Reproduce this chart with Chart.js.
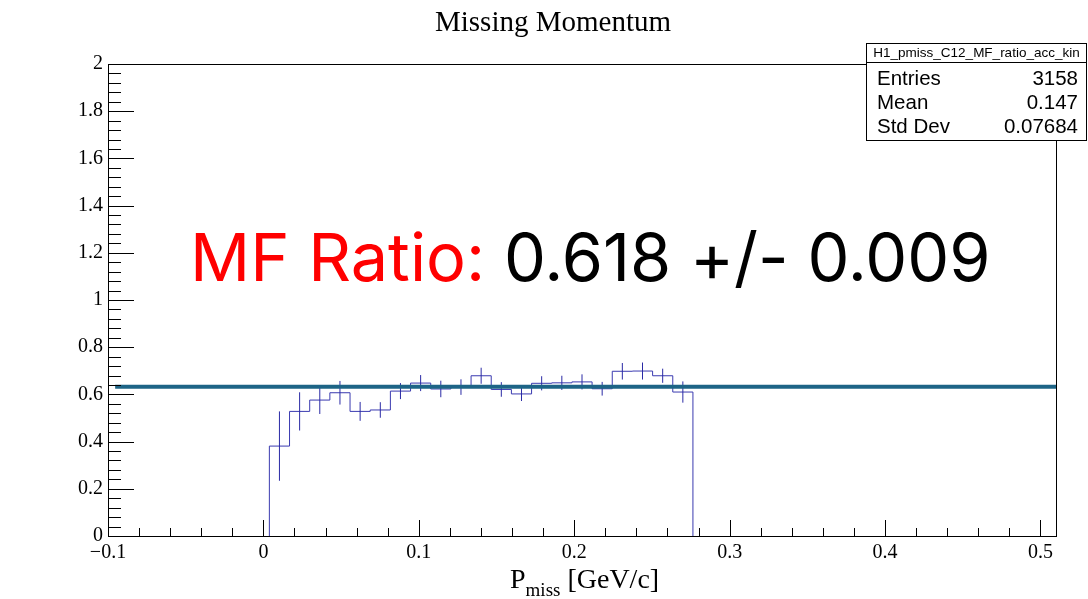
<!DOCTYPE html>
<html>
<head>
<meta charset="utf-8">
<title>Missing Momentum</title>
<script src="https://cdn.jsdelivr.net/npm/chart.js@4.4.0/dist/chart.umd.min.js"></script>
<style>
  html, body { margin: 0; padding: 0; background: #fff; }
</style>
</head>
<body>
<canvas id="chart" width="1088" height="599"></canvas>
<script>
// H1_pmiss_C12_MF_ratio_acc_kin : 47 bins over [-0.1, 0.51]
const histMin = -0.1;
const histMax = 0.51;
const histBins = 47;
const firstFilledBin = 8; // 0-based index of first non-empty bin

// bin contents / errors (bins 8..28)
const binValues = [0.381, 0.528, 0.576, 0.607, 0.528, 0.534, 0.614, 0.648, 0.623, 0.631, 0.679,
                   0.621, 0.602, 0.647, 0.649, 0.653, 0.624, 0.698, 0.699, 0.679, 0.610];
const binErrors = [0.147, 0.081, 0.059, 0.050, 0.040, 0.033, 0.034, 0.034, 0.035, 0.033, 0.034,
                   0.031, 0.030, 0.030, 0.030, 0.032, 0.029, 0.035, 0.036, 0.030, 0.045];

// pol0 fit
const fitValue = 0.632;
const fitRange = [-0.0954, 0.51];

const xTicks = [-0.1, 0, 0.1, 0.2, 0.3, 0.4, 0.5];
const xTickLabels = ['\u22120.1', '0', '0.1', '0.2', '0.3', '0.4', '0.5'];
const yTicks = [0, 0.2, 0.4, 0.6, 0.8, 1, 1.2, 1.4, 1.6, 1.8, 2];
const yTickLabels = ['0', '0.2', '0.4', '0.6', '0.8', '1', '1.2', '1.4', '1.6', '1.8', '2'];

const plotTitle = 'Missing Momentum';
const statsTitle = 'H1_pmiss_C12_MF_ratio_acc_kin';
const statsLabels = ['Entries', 'Mean', 'Std Dev'];
const statsValues = ['3158', '0.147', '0.07684'];
const ratioLabel = 'MF Ratio:';
const ratioValue = '0.618 +/- 0.009';

const binWidth = (histMax - histMin) / histBins;
const edge = i => histMin + i * binWidth;

// step outline
const histPoints = [{ x: edge(firstFilledBin), y: 0 }];
binValues.forEach((v, k) => histPoints.push({ x: edge(firstFilledBin + k), y: v }));
histPoints.push({ x: edge(firstFilledBin + binValues.length), y: 0 });

// vertical error bars, separated by gaps
const errPoints = [];
binValues.forEach((v, k) => {
  const c = edge(firstFilledBin + k) + binWidth / 2;
  errPoints.push({ x: c, y: v - binErrors[k] }, { x: c, y: v + binErrors[k] }, { x: c, y: null });
});

const rootLook = {
  id: 'rootLook',
  afterDatasetsDraw(chart) {
    const ctx = chart.ctx;
    const { left, right, top, bottom } = chart.chartArea;
    const xs = chart.scales.x, ys = chart.scales.y;
    ctx.save();
    ctx.strokeStyle = '#000';
    ctx.lineWidth = 1;
    ctx.strokeRect(left + 0.5, top + 0.5, right - left, bottom - top);

    // inward ticks, 4 minor per major
    ctx.beginPath();
    const xStep = (xTicks[1] - xTicks[0]) / 5;
    for (let k = 0; ; k++) {
      const v = xTicks[0] + k * xStep;
      if (v > histMax + 1e-9) break;
      const px = Math.round(xs.getPixelForValue(v)) + 0.5;
      const len = k % 5 === 0 ? 16 : 8;
      ctx.moveTo(px, bottom);
      ctx.lineTo(px, bottom - len);
    }
    const yStep = (yTicks[1] - yTicks[0]) / 5;
    for (let k = 0; ; k++) {
      const v = yTicks[0] + k * yStep;
      if (v > yTicks[yTicks.length - 1] + 1e-9) break;
      const py = Math.round(ys.getPixelForValue(v)) + 0.5;
      const len = k % 5 === 0 ? 26 : 13;
      ctx.moveTo(left, py);
      ctx.lineTo(left + len, py);
    }
    ctx.stroke();
    ctx.restore();
  },
  afterDraw(chart) {
    const ctx = chart.ctx;
    ctx.save();

    // title
    ctx.fillStyle = '#000';
    ctx.font = '29px "Liberation Serif"';
    ctx.textAlign = 'center';
    ctx.textBaseline = 'alphabetic';
    ctx.fillText(plotTitle, 553, 31);

    // x axis title with subscript
    ctx.textAlign = 'left';
    ctx.font = '28px "Liberation Serif"';
    let x = 510;
    ctx.fillText('P', x, 588);
    x += ctx.measureText('P').width;
    ctx.font = '19px "Liberation Serif"';
    ctx.fillText('miss', x, 596);
    x += ctx.measureText('miss').width;
    ctx.font = '28px "Liberation Serif"';
    ctx.fillText(' [GeV/c]', x, 588);

    // stats box
    const bx = 866.5, by = 43.5, bw = 220, bh = 97;
    ctx.fillStyle = '#fff';
    ctx.fillRect(bx, by, bw, bh);
    ctx.strokeStyle = '#000';
    ctx.lineWidth = 1;
    ctx.strokeRect(bx, by, bw, bh);
    ctx.beginPath();
    ctx.moveTo(bx, 62.5);
    ctx.lineTo(bx + bw, 62.5);
    ctx.stroke();
    ctx.fillStyle = '#000';
    ctx.font = '13.5px "Liberation Sans"';
    ctx.textAlign = 'center';
    ctx.textBaseline = 'middle';
    ctx.fillText(statsTitle, bx + bw / 2, 53.5);
    ctx.font = '20.5px "Liberation Sans"';
    statsLabels.forEach((lab, i) => {
      const yy = 79.5 + i * 24;
      ctx.textAlign = 'left';
      ctx.fillText(lab, 877, yy);
      ctx.textAlign = 'right';
      ctx.fillText(statsValues[i], 1078, yy);
    });

    // ratio annotation
    ctx.textAlign = 'left';
    ctx.textBaseline = 'alphabetic';
    ctx.font = '66.6px Inter';
    ctx.fillStyle = '#ff0000';
    ctx.fillText(ratioLabel, 190, 281);
    const w = ctx.measureText(ratioLabel + ' ').width;
    ctx.fillStyle = '#000';
    ctx.fillText(ratioValue, 190 + w, 281);
    ctx.restore();
  }
};

new Chart(document.getElementById('chart').getContext('2d'), {
  type: 'line',
  data: {
    datasets: [
      {
        label: 'fit',
        data: [{ x: fitRange[0], y: fitValue }, { x: fitRange[1], y: fitValue }],
        borderColor: '#1d6486',
        borderWidth: 4,
        pointRadius: 0,
        order: 0
      },
      {
        label: 'errors',
        data: errPoints,
        borderColor: '#2a2aa5',
        borderWidth: 1,
        pointRadius: 0,
        spanGaps: false,
        order: 1
      },
      {
        label: 'hist',
        data: histPoints,
        borderColor: '#3a3ab0',
        borderWidth: 1,
        pointRadius: 0,
        stepped: 'before',
        order: 2
      }
    ]
  },
  options: {
    responsive: false,
    animation: false,
    devicePixelRatio: 1,
    layout: { padding: { top: 64, right: 32, left: 0, bottom: 0 } },
    plugins: { legend: { display: false }, tooltip: { enabled: false }, title: { display: false } },
    scales: {
      x: {
        type: 'linear',
        min: histMin,
        max: histMax,
        grid: { display: false, drawTicks: false },
        border: { display: false },
        afterBuildTicks: s => { s.ticks = xTicks.map(v => ({ value: v })); },
        afterFit: s => { s.height = 63; },
        ticks: {
          autoSkip: false,
          maxRotation: 0,
          padding: 5,
          color: '#000',
          font: { family: 'Liberation Serif', size: 20 },
          callback: (v, i) => xTickLabels[i]
        }
      },
      y: {
        type: 'linear',
        min: 0,
        max: 2,
        grid: { display: false, drawTicks: false },
        border: { display: false },
        afterBuildTicks: s => { s.ticks = yTicks.map(v => ({ value: v })); },
        afterFit: s => { s.width = 108; },
        ticks: {
          autoSkip: false,
          padding: 5,
          color: '#000',
          font: { family: 'Liberation Serif', size: 20 },
          callback: (v, i) => yTickLabels[i]
        }
      }
    }
  },
  plugins: [rootLook]
});
</script>
</body>
</html>
